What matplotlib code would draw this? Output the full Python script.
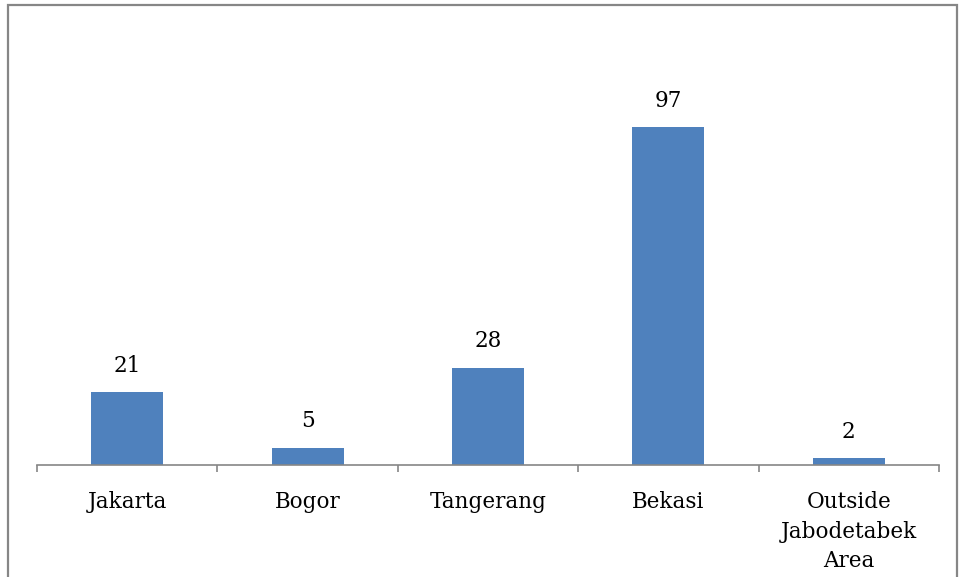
import matplotlib.pyplot as plt
import matplotlib.patches as mpatches
import numpy as np

plt.rcParams.update({
    'font.family': 'DejaVu Serif',
    'font.size': 15.5,
})

# data
regions = ['Jakarta', 'Bogor', 'Tangerang', 'Bekasi', 'Outside\nJabodetabek\nArea']
counts = [21, 5, 28, 97, 2]

BAR_COLOR = '#4F81BD'
LINE_COLOR = '#868686'

fig = plt.figure(figsize=(9.59, 5.77), dpi=100)
ax = fig.add_axes([37 / 959, 112 / 577, 902 / 959, 417.6 / 577])

x = np.arange(len(regions))
bars = ax.bar(x, counts, width=0.4, color=BAR_COLOR)

ax.set_xlim(-0.5, len(regions) - 0.5)
ax.set_ylim(0, 120)

# value labels above bars
for bar, val in zip(bars, counts):
    ax.annotate(f'{val}', xy=(bar.get_x() + bar.get_width() / 2, val),
                xytext=(0, 11), textcoords='offset points',
                ha='center', va='bottom', fontsize=15.5, color='black')

# category axis with ticks between categories
for side in ['left', 'right', 'top']:
    ax.spines[side].set_visible(False)
ax.spines['bottom'].set_color(LINE_COLOR)
ax.spines['bottom'].set_linewidth(1.2)
ax.set_yticks([])
ax.set_xticks(np.arange(-0.5, len(regions), 1.0))
ax.set_xticklabels([])
ax.tick_params(axis='x', direction='out', length=5, color=LINE_COLOR, width=1.2)
ax.set_xticks(x, minor=True)
ax.set_xticklabels(regions, minor=True, linespacing=1.42)
ax.tick_params(axis='x', which='minor', length=0, pad=19, labelsize=15.5)

# outer border
border = mpatches.Rectangle((8 / 959, -0.05), 949 / 959, 1.05 - 4.5 / 577,
                            transform=fig.transFigure, fill=False,
                            edgecolor=LINE_COLOR, linewidth=1.6)
fig.patches.append(border)

fig.savefig('out.png', dpi=100)
